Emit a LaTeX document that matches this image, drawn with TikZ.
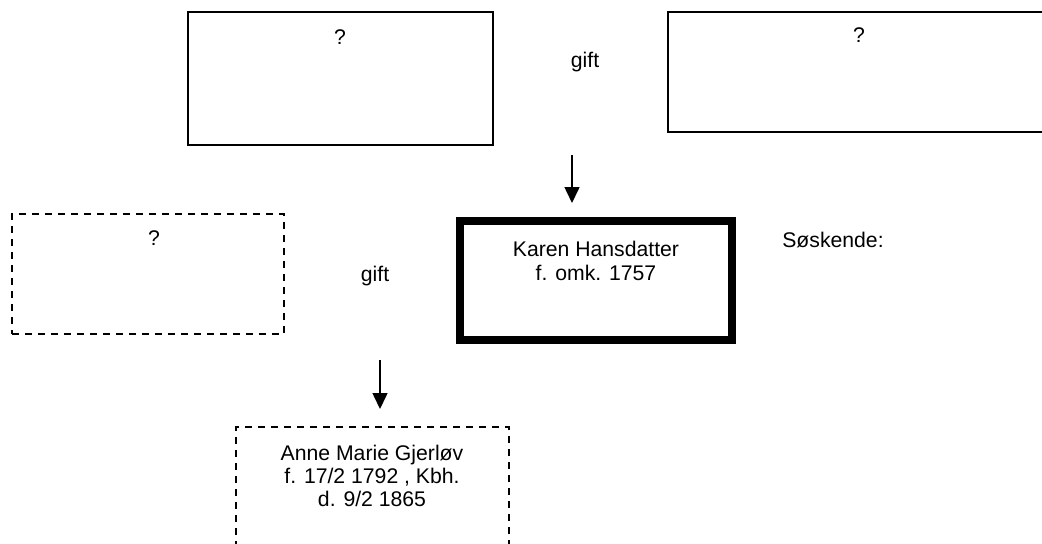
\documentclass[tikz,border=0pt]{standalone}
\usepackage{fontspec}
\setmainfont{Liberation Sans}
\usetikzlibrary{arrows.meta, positioning}
\tikzstyle{person} = [rectangle, minimum width=136pt, minimum height=60pt, draw=black, line width=0.9pt]
\tikzstyle{unknown} = [person, line width=1pt, dash pattern=on 3.6pt off 2.9pt]
\tikzstyle{main} = [person, line width=4pt, minimum height=59.5pt]
\tikzstyle{txt} = [align=center, inner sep=0pt]
\tikzstyle{arrow} = [line width=0.75pt, -{Triangle[length=8pt, width=7.5pt]}]
\begin{document}
\begin{tikzpicture}[x=0.5pt, y=-0.5pt, font=\fontsize{10.6}{11.7}\selectfont]
\useasboundingbox (0, 0) rectangle (1042, 543);
\clip (0, 0) rectangle (1042, 543);

\node at (340.5, 78.5) (father) [person, minimum width=152.5pt, minimum height=66.5pt] {};
\node at (859, 72) (mother) [person, minimum width=191pt] {};
\node at (596, 280.5) (karen) [main] {};
\node at (148, 274) (husband) [unknown] {};
\node at (372.5, 487) (anne) [unknown, minimum width=136.5pt] {};

\node at (340, 37) (fathername) [txt] {?};
\node at (859, 35) (mothername) [txt] {?};
\node at (585, 62) (gift1) [txt] {gift};
\node at (596, 261) (karenname) [txt] {Karen Hansdatter\\f. omk. 1757};
\node at (833, 240) (siblings) [txt] {Søskende:};
\node at (154, 238) (husbandname) [txt] {?};
\node at (375, 276) (gift2) [txt] {gift};
\node at (372, 476) (annename) [txt] {Anne Marie Gjerløv\\f. 17/2 1792 , Kbh.\\d. 9/2 1865};

\coordinate (parents) at (572, 155);
\coordinate (couple) at (380, 360);
\draw [arrow, shorten >=7pt] (parents) -- (parents |- karen.north);
\draw [arrow, shorten >=8.5pt] (couple) -- (couple |- anne.north);

\end{tikzpicture}
\end{document}
